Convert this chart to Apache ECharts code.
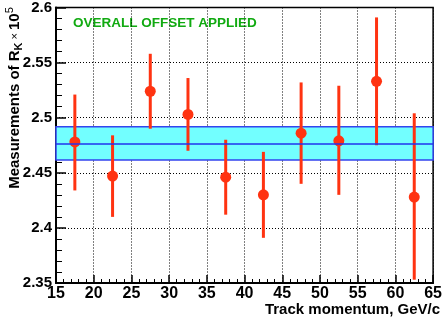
<!DOCTYPE html>
<html>
<head>
<meta charset="utf-8">
<script src="https://cdn.jsdelivr.net/npm/echarts@6/dist/echarts.min.js"></script>
<style>html,body{margin:0;padding:0;background:#fff}#c{width:445px;height:327px}</style>
</head>
<body>
<div id="c"></div>
<script>
// Data
var momenta = [17.5, 22.5, 27.5, 32.5, 37.5, 42.5, 47.5, 52.5, 57.5, 62.5];
var values  = [2.478, 2.447, 2.524, 2.503, 2.446, 2.430, 2.486, 2.479, 2.533, 2.428];
var errLow  = [2.434, 2.410, 2.490, 2.470, 2.412, 2.391, 2.440, 2.430, 2.475, 2.353];
var errHigh = [2.521, 2.484, 2.558, 2.536, 2.480, 2.469, 2.532, 2.529, 2.591, 2.504];
var bandLow = 2.4617, bandHigh = 2.4917, bandCenter = 2.4767;
var xTicks = [15, 20, 25, 30, 35, 40, 45, 50, 55, 60, 65];
var yTicks = [2.35, 2.4, 2.45, 2.5, 2.55, 2.6];

var FONT = 'Liberation Sans, Arial, sans-serif';
var RED = '#ff3311';

var chart = echarts.init(document.getElementById('c'));
var errData = momenta.map(function (m, i) { return [m, errLow[i], errHigh[i]]; });
var ptData = momenta.map(function (m, i) { return [m, values[i]]; });

chart.setOption({
  animation: false,
  grid: { left: 56, right: 5, top: 6, bottom: 44, show: true, borderColor: '#000', borderWidth: 1.5, backgroundColor: 'transparent' },
  xAxis: {
    type: 'value', min: xTicks[0], max: xTicks[xTicks.length - 1], interval: 5,
    axisLine: { show: true, lineStyle: { color: '#000', width: 2 } },
    axisTick: { show: true, inside: true, length: 8, lineStyle: { color: '#000', width: 1.5 } },
    minorTick: { show: true, splitNumber: 5, length: 4, lineStyle: { color: '#000', width: 1 } },
    splitLine: { show: true, lineStyle: { color: '#000', type: [1, 2], width: 1 } },
    axisLabel: { color: '#000', fontFamily: FONT, fontWeight: 'bold', fontSize: 16, margin: 3 }
  },
  yAxis: {
    type: 'value', min: yTicks[0], max: yTicks[yTicks.length - 1], interval: 0.05,
    axisLine: { show: true, lineStyle: { color: '#000', width: 2 } },
    axisTick: { show: true, inside: true, length: 10, lineStyle: { color: '#000', width: 1.5 } },
    minorTick: { show: true, splitNumber: 5, length: 6, lineStyle: { color: '#000', width: 1 } },
    splitLine: { show: true, lineStyle: { color: '#000', type: [1, 2], width: 1 } },
    axisLabel: { color: '#000', fontFamily: FONT, fontWeight: 'bold', fontSize: 15, margin: 4 }
  },
  series: [
    {
      type: 'line', data: [], silent: true,
      markArea: {
        silent: true,
        itemStyle: { color: '#72ffff', borderColor: '#3344ee', borderWidth: 1.5 },
        data: [[{ coord: [xTicks[0], bandLow] }, { coord: [xTicks[xTicks.length - 1], bandHigh] }]]
      },
      markLine: {
        silent: true, symbol: 'none', label: { show: false },
        lineStyle: { color: '#2233ee', width: 1.5, type: 'solid' },
        data: [[{ coord: [xTicks[0], bandCenter] }, { coord: [xTicks[xTicks.length - 1], bandCenter] }]]
      }
    },
    {
      type: 'custom', data: errData, z: 3,
      renderItem: function (params, api) {
        var x = api.value(0);
        var lo = api.coord([x, api.value(1)]);
        var hi = api.coord([x, api.value(2)]);
        return { type: 'line', shape: { x1: lo[0], y1: lo[1], x2: hi[0], y2: hi[1] },
                 style: { stroke: RED, lineWidth: 3 } };
      }
    },
    {
      type: 'scatter', data: ptData, symbol: 'circle', symbolSize: 11, z: 4,
      itemStyle: { color: RED, opacity: 1 }
    }
  ],
  graphic: [
    { type: 'text', left: 73, top: 16, style: { text: 'OVERALL OFFSET APPLIED', fill: '#11aa11', font: 'bold 13.5px ' + FONT } },
    { type: 'text', right: 5, top: 302, style: { text: 'Track momentum, GeV/c', fill: '#000', font: 'bold 15px ' + FONT } },
    {
      type: 'text', x: 15, y: 98, rotation: Math.PI / 2,
      style: {
        text: 'Measurements of R{sub|K}{x| × }10{sup|5}',
        fill: '#000', font: 'bold 15px ' + FONT, align: 'center', verticalAlign: 'middle',
        rich: {
          sub: { fontSize: 11, fontWeight: 'bold', fontFamily: FONT, fill: '#000', padding: [8, 0, 0, 0] },
          x: { fontSize: 11, fontWeight: 'normal', fontFamily: FONT, fill: '#000' },
          sup: { fontSize: 11, fontWeight: 'normal', fontFamily: FONT, fill: '#000', padding: [0, 0, 10, 0] }
        }
      }
    }
  ]
});
</script>
</body>
</html>
